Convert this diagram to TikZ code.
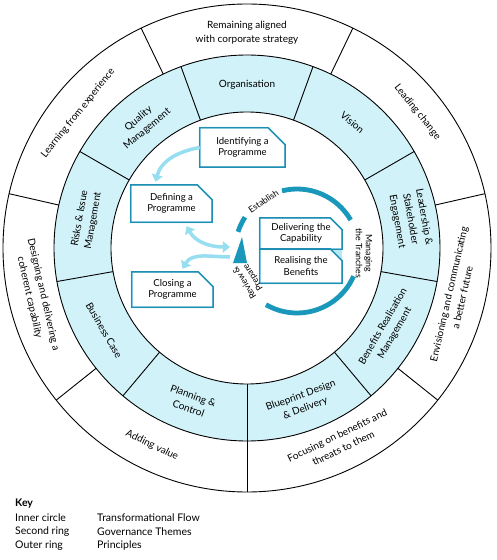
\documentclass[tikz,border=0pt]{standalone}
\usepackage{fontspec}
\setmainfont{Lato}
\usetikzlibrary{arrows.meta,calc}
\definecolor{ringfill}{RGB}{208,242,248}
\definecolor{lightflow}{RGB}{150,222,240}
\definecolor{tealdark}{RGB}{26,152,188}
\definecolor{boxline}{RGB}{32,142,178}
\pgfdeclarelayer{bg}
\pgfdeclarelayer{mid}
\pgfsetlayers{bg,mid,main}
\tikzset{
  ringline/.style={line width=0.9pt, draw=black},
  outertext/.style={align=center, inner sep=0pt, font=\fontsize{10}{14}\selectfont},
  themetext/.style={align=center, inner sep=0pt, font=\fontsize{10}{13.5}\selectfont},
  flowbox/.style={align=center, inner sep=0pt, font=\fontsize{9.6}{11.5}\selectfont},
  boxborder/.style={draw=boxline, line width=1.4pt, line join=miter},
  boxshadow/.style={draw=lightflow, line width=1.6pt},
  flowarrow/.style={draw=lightflow, line width=3.5pt, -{Triangle[length=7pt,width=11pt]}},
  cyclearc/.style={draw=tealdark, line width=4.8pt},
  cycletext/.style={align=center, inner sep=0pt, font=\fontsize{8.8}{10}\selectfont},
  keytext/.style={anchor=west, inner sep=0pt, font=\fontsize{10.5}{12}\selectfont}
}
\newcommand\cutboxpath[2]{(#1.north west) -- ($(#1.north east)+(-#2,0)$) -- ($(#1.north east)+(0,-#2)$) -- (#1.south east) -- (#1.south west) -- cycle}
\begin{document}
\begin{tikzpicture}[x=1pt,y=1pt]
\useasboundingbox (-247,-312) rectangle (249,248);
% rings
\begin{pgfonlayer}{bg}
\draw[ringline, fill=white] (0,0) circle (244);
\draw[ringline, fill=ringfill] (0,0) circle (193);
\draw[ringline, fill=white] (0,0) circle (136);
\foreach \a in {115.714,167.143,218.571,270,321.429,12.857,64.286}
  \draw[ringline] (\a:193) -- (\a:244);
\foreach \a in {70,110,150,190,230,270,310,350,30}
  \draw[ringline] (\a:136) -- (\a:193);
\end{pgfonlayer}
% principles
\node[outertext] (p1) at (90:215) {Remaining aligned\\with corporate strategy};
\node[outertext, rotate=51.43] (p2) at (141.43:216) {Learning from experience};
\node[outertext, rotate=-77.14] (p3) at (192.86:216) {Designing and delivering a\\coherent capability};
\node[outertext, rotate=-25.71] (p4) at (244.29:219) {Adding value};
\node[outertext, rotate=25.71] (p5) at (295.71:215) {Focusing on benefits and\\threats to them};
\node[outertext, rotate=77.14] (p6) at (347.14:214) {Envisioning and communicating\\a better future};
\node[outertext, rotate=-51.43] (p7) at (38.57:218) {Leading change};
% themes
\node[themetext] (t1) at (90:163) {Organisation};
\node[themetext, rotate=40] (t2) at (130:162) {Quality\\Management};
\node[themetext, rotate=80] (t3) at (170:163) {Risks \& Issue\\Management};
\node[themetext, rotate=-60] (t4) at (210:165) {Business Case};
\node[themetext, rotate=-20] (t5) at (250:164) {Planning \&\\Control};
\node[themetext, rotate=20] (t6) at (290:164) {Blueprint Design\\\& Delivery};
\node[themetext, rotate=60] (t7) at (330:164) {Benefits Realisation\\Management};
\node[themetext, rotate=-80] (t8) at (10:166) {Leadership \&\\Stakeholder\\Engagement};
\node[themetext, rotate=-40] (t9) at (50:164) {Vision};
% flow boxes
\node[flowbox, minimum width=85pt, minimum height=39pt] (ident) at (-4.5,100.5) {Identifying a\\Programme};
\node[flowbox, minimum width=81pt, minimum height=37pt] (def) at (-75.5,44.5) {Defining a\\Programme};
\node[flowbox, minimum width=81pt, minimum height=35pt] (close) at (-74.5,-41.5) {Closing a\\Programme};
\node[flowbox, minimum width=82pt, minimum height=31pt] (deliv) at (54,14.5) {Delivering the\\Capability};
\node[flowbox, minimum width=82pt, minimum height=34pt] (real) at (54,-18) {Realising the\\Benefits};
\begin{pgfonlayer}{mid}
\foreach \b/\c in {ident/17,def/15,close/15,deliv/12,real/12}
  \draw[boxshadow, shift={(1.3,-1.3)}] \cutboxpath{\b}{\c};
\fill[lightflow!70] ($(real.north east)+(-12,0)$) -- (real.north east) -- ($(real.north east)+(0,-12)$) -- cycle;
\foreach \b/\c in {ident/17,def/15,close/15,deliv/12,real/12}
  \draw[boxborder] \cutboxpath{\b}{\c};
\end{pgfonlayer}
% triangle and flow arrows
\coordinate (tri) at (-7,-2);
\fill[tealdark] ($(tri)+(2,13)$) -- ($(tri)+(-7,-13)$) -- ($(tri)+(7,-13)$) -- cycle;
\draw[flowarrow] (ident.west) to[out=190,in=75] ($(def.north)+(-16,3)$);
\draw[flowarrow, {Triangle[length=7pt,width=11pt]}-{Triangle[length=7pt,width=11pt]}] ($(def.south)+(15,-4)$) to[out=-60,in=180] ($(tri)+(-10,3)$);
\draw[flowarrow] ($(tri)+(-10,-7)$) to[out=180,in=60] ($(close.north)+(10,3)$);
% cycle arcs
\coordinate (cyc) at (50,-3);
\draw[cyclearc] ($(cyc)+(104:62)$) arc[start angle=104,end angle=30,radius=62];
\draw[cyclearc] ($(cyc)+(-24:62)$) arc[start angle=-24,end angle=-120,radius=62];
\draw[cyclearc] ($(cyc)+(147:62)$) arc[start angle=147,end angle=162,radius=62];
\node[cycletext, rotate=34] (est) at ($(cyc)+(124:60)$) {Establish};
\node[cycletext, rotate=-90] (mtr) at ($(cyc)+(-2:67)$) {Managing\\the Tranches};
\node[cycletext, rotate=122] (rvp) at (2,-32) {Review \&\\Prepare};
% key
\node[keytext, font=\bfseries\fontsize{10.5}{12}\selectfont] (key) at (-232,-256) {Key};
\node[keytext] (k1) at (-232,-270) {Inner circle};
\node[keytext] (k2) at (-232,-284) {Second ring};
\node[keytext] (k3) at (-232,-298) {Outer ring};
\node[keytext] (v1) at (-150,-270) {Transformational Flow};
\node[keytext] (v2) at (-150,-284) {Governance Themes};
\node[keytext] (v3) at (-150,-298) {Principles};
\end{tikzpicture}
\end{document}
